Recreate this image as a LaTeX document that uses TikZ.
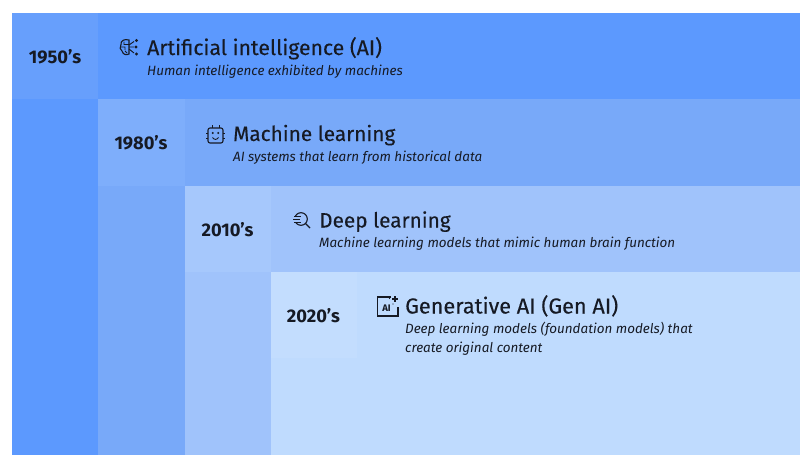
\documentclass[tikz,border=0pt]{standalone}
\usepackage{fontspec}
\setmainfont{Fira Sans}
\newfontfamily\ttlfont[FakeBold=0.2]{Fira Sans}
\definecolor{inkc}{HTML}{161A24}
\definecolor{bandA}{HTML}{5C99FE}
\definecolor{boxA}{HTML}{679FFC}
\definecolor{bandB}{HTML}{78A9F9}
\definecolor{boxB}{HTML}{7EAEFB}
\definecolor{bandC}{HTML}{A0C3FB}
\definecolor{boxC}{HTML}{A6C8FC}
\definecolor{bandD}{HTML}{BFDBFE}
\definecolor{boxD}{HTML}{C3DDFE}
\tikzset{
 x=1pt,y=-1pt,
 year/.style={font=\fontsize{18.3}{20}\selectfont\bfseries,text=inkc,inner sep=0pt,anchor=center},
 ttl/.style={font=\ttlfont\fontsize{#1}{23}\selectfont,text=inkc,inner sep=0pt,anchor=base west},
 subt/.style={font=\fontsize{13.45}{19}\selectfont\itshape,text=inkc,inner sep=0pt,anchor=base west,align=left},
 icon/.style={draw=inkc,line width=1.1pt,fill=none},
 dotfill/.style={fill=inkc,draw=none}
}
\begin{document}
\begin{tikzpicture}
\useasboundingbox (0,0) rectangle (800,455);
\fill[white] (0,0) rectangle (800,455);
% nested bands
\fill[bandA] (12,13) rectangle (800,455);
\fill[boxA] (12,13) rectangle (98,99);
\fill[bandB] (98,99) rectangle (800,455);
\fill[boxB] (98,99) rectangle (184.5,185.5);
\fill[bandC] (184.5,185.5) rectangle (800,455);
\fill[boxC] (184.5,185.5) rectangle (271,272);
\fill[bandD] (271,272) rectangle (800,455);
\fill[boxD] (271,272) rectangle (357,358);
% years
\node[year] (y1) at (55,57) {1950’s};
\node[year] (y2) at (141,143) {1980’s};
\node[year] (y3) at (227.5,229.5) {2010’s};
\node[year] (y4) at (313.5,316) {2020’s};
% titles
\node[ttl=21.2] (t1) at (147,55) {Artificial intelligence (AI)};
\node[subt] (s1) at (147,75) {Human intelligence exhibited by machines};
\node[ttl=20.8] (t2) at (233,141) {Machine learning};
\node[subt] (s2) at (233,161) {AI systems that learn from historical data};
\node[ttl=20.8] (t3) at (319,227.5) {Deep learning};
\node[subt] (s3) at (319,247.5) {Machine learning models that mimic human brain function};
\node[ttl=21.7] (t4) at (405,313.5) {Generative AI (Gen AI)};
\node[subt,anchor=north west] (s4) at (405,321.5) {Deep learning models (foundation models) that\\create original content};
% brain icon
\draw[icon] (129,40) .. controls (124,38.5) and (120.5,41) .. (121,44.5) .. controls (119.5,47) and (120,50) .. (122,51) .. controls (123,54.5) and (126,55.5) .. (129,54) -- cycle;
\draw[icon,line width=.8pt] (121,47) -- (125,47) -- (125,50) (124,41.5) -- (124,44.5) -- (129,44.5) (125,51) -- (127,53);
\draw[icon,line width=.9pt] (129,47) -- (134,47) (129,45) -- (134,41.5) (129,49) -- (134,53);
\fill[dotfill] (136.5,40.5) circle (1.7) (136,47) circle (1.7) (136.5,54) circle (1.7);
% robot icon
\draw[icon,rounded corners=2pt] (208,128) rectangle (223,143);
\draw[icon,line width=.9pt] (212,125) -- (212,128) (219,125) -- (219,128) (206,133) -- (208,133) (206,138) -- (208,138) (223,133) -- (225,133) (223,138) -- (225,138);
\fill[dotfill] (212.7,133) circle (1.1) (218.3,133) circle (1.1);
\draw[icon,line width=.9pt] (212.5,137.5) .. controls (214,140) and (217,140) .. (218.5,137.5);
% magnifier icon
\draw[icon] (301,219) circle (6.3);
\draw[icon] (305.5,223.5) -- (310,228);
\fill[bandC] (292,216) rectangle (299,222.5);
\draw[icon,line width=.9pt] (294,216) -- (301,216) (293,219) -- (300,219) (294,222) -- (301,222);
% AI sparkle icon
\draw[icon] (391,297) -- (377.5,297) -- (377.5,316) -- (398,316) -- (398,307);
\node[font=\fontsize{9.5}{9.5}\selectfont\bfseries,text=inkc,inner sep=0pt] (ai) at (386.5,308) {AI};
\draw[icon] (395,296) -- (395,302) (392,299) -- (398,299);
\fill[dotfill] (389.5,298.5) circle (.7) (393,304) circle (.7);
\end{tikzpicture}
\end{document}
